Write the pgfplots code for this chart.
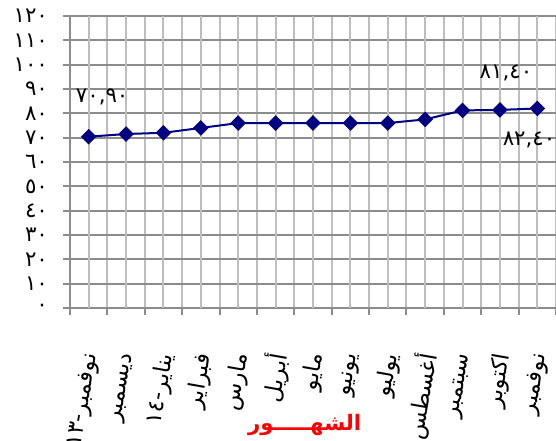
\documentclass[border=0pt]{standalone}
\usepackage{fontspec}
\usepackage{pgfplots}
\pgfplotsset{compat=1.18}
\newfontfamily\arabicfont[Script=Arabic]{DejaVu Sans}
\TeXXeTstate=1
\definecolor{hgrid}{RGB}{140,140,140}
\definecolor{vgrid}{RGB}{190,190,190}
\definecolor{navyline}{RGB}{0,0,128}

\begin{document}
\begin{tikzpicture}
\begin{axis}[
  name=ax,
  width=364.5pt, height=219pt, scale only axis,
  xmin=0.5, xmax=13.5, ymin=0, ymax=120,
  axis x line*=bottom, axis y line*=left,
  axis line style={hgrid, line width=1.5pt},
  tick align=outside,
  major tick length=5pt,
  tick style={hgrid, line width=1.5pt},
  xtick={0.5,1.5,...,13.5}, xticklabels={},
  extra x ticks={1,2,...,13},
  extra x tick labels={نوفمبر-١٣,ديسمبر,يناير-١٤,فبراير,مارس,أبريل,مايو,يونيو,يوليو,أغسطس,سبتمبر,اكتوبر,نوفمبر},
  extra x tick style={major tick length=0pt, grid=major},
  xticklabel style={font=\arabicfont\fontsize{17}{17}\selectfont, yshift=-31pt, xshift=3.5pt, rotate=80, anchor=east},
  ytick={0,10,...,120},
  yticklabels={٠,١٠,٢٠,٣٠,٤٠,٥٠,٦٠,٧٠,٨٠,٩٠,١٠٠,١١٠,١٢٠},
  yticklabel style={font=\arabicfont\fontsize{16}{16}\selectfont, xshift=-8pt},
  xmajorgrids, ymajorgrids,
  major x grid style={vgrid, line width=1.5pt},
  major y grid style={hgrid, line width=1.5pt},
  clip=false,
]
\addplot[navyline, line width=1.5pt, mark=square*, mark size=3.4pt,
  mark options={rotate=45, fill=navyline}] coordinates {
  (1,70.4) (2,71.5) (3,72) (4,74) (5,76) (6,76) (7,76)
  (8,76) (9,76) (10,77.5) (11,81.2) (12,81.4) (13,82.0)};
\node[font=\arabicfont\fontsize{16}{16}\selectfont] at (axis cs:1.36,86.8) {٧٠,٩٠};
\node[font=\arabicfont\fontsize{16}{16}\selectfont] at (axis cs:12.16,96.7) {٨١,٤٠};
\node[font=\arabicfont\fontsize{16}{16}\selectfont, anchor=west] at (axis cs:11.95,69.1) {٨٢,٤٠};
\end{axis}
\node[font=\arabicfont\bfseries\fontsize{16}{16}\selectfont, text=red]
  at ([shift={(176pt,-87.75pt)}]ax.south west) {الشهـــــور};
\pgfresetboundingbox
\path[use as bounding box] ([shift={(-52.5pt,-99.75pt)}]ax.south west)
  rectangle ([shift={(0pt,12pt)}]ax.north east);
\end{tikzpicture}
\end{document}
